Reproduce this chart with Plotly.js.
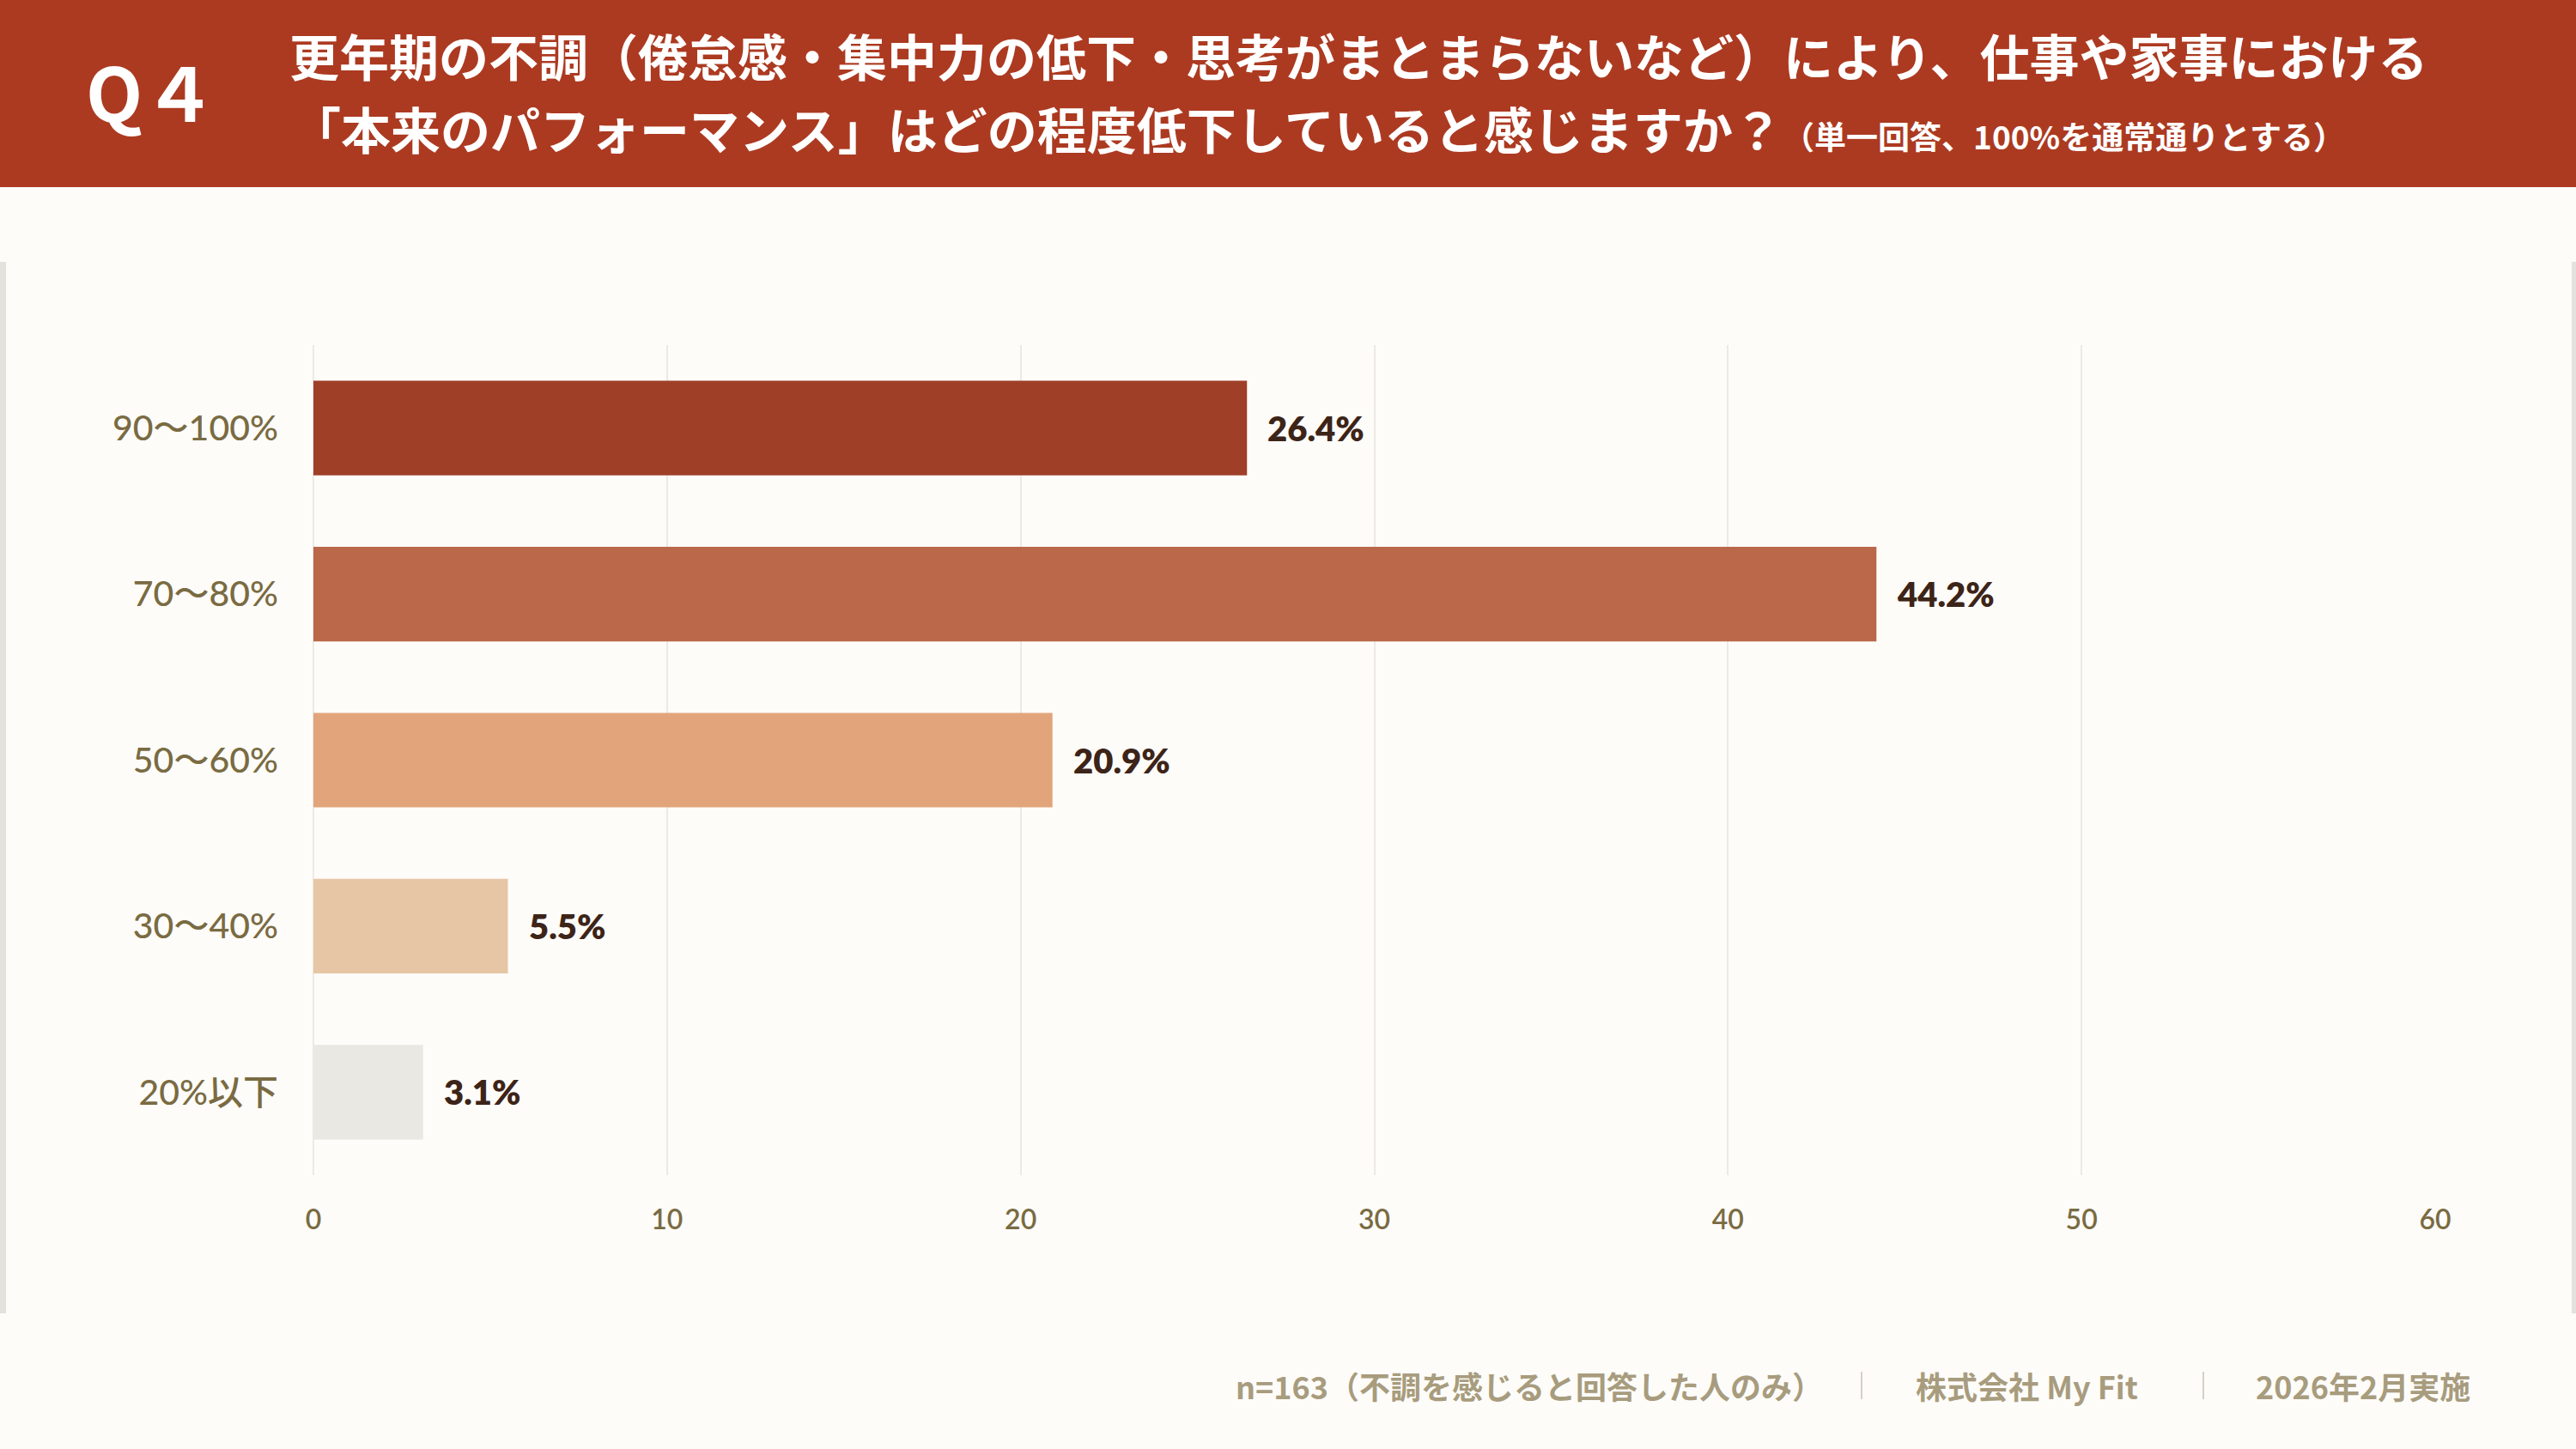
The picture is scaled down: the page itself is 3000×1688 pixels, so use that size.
<!DOCTYPE html>
<html>
<head>
<meta charset="utf-8">
<script src="https://cdn.plot.ly/plotly-3.0.1.min.js"></script>
<style>
  html, body { margin: 0; padding: 0; background: #FDFCF9; }
  #chart { width: 3000px; height: 1688px; }
</style>
</head>
<body>
<div id="chart"></div>
<script>
// ---- data ----
const categories = ["90〜100%", "70〜80%", "50〜60%", "30〜40%", "20%以下"];
const values = [26.4, 44.2, 20.9, 5.5, 3.1];
const valueLabels = ["26.4%", "44.2%", "20.9%", "5.5%", "3.1%"];
const xTicks = [0, 10, 20, 30, 40, 50, 60];
const qLabel = "Q４";
const titleLine1 = "更年期の不調（倦怠感・集中力の低下・思考がまとまらないなど）により、仕事や家事における";
const titleLine2 = "「本来のパフォーマンス」はどの程度低下していると感じますか？";
const titleNote = "（単一回答、100%を通常通りとする）";
const footerParts = ["n=163（不調を感じると回答した人のみ）", "株式会社 My Fit", "2026年2月実施"];

// ---- styles ----
const barColors = ["#A03F28", "#BA6849", "#E2A57B", "#E7C6A6", "#E9E8E3"];
const W = 3000, H = 1688;
const M = { l: 365, r: 164, t: 402, b: 319 };
const PW = W - M.l - M.r, PH = H - M.t - M.b;
const X = px => (px - M.l) / PW;
const Y = py => (H - M.b - py) / PH;

const jp = '"Noto Sans CJK JP", "Noto Sans", sans-serif';
const lat = 'Lato, "Noto Sans CJK JP", sans-serif';
const olive = "#7A6B42";

const trace = {
  type: "bar",
  orientation: "h",
  x: values,
  y: categories,
  marker: { color: barColors },
  hoverinfo: "skip"
};

const annotations = [];
values.forEach((v, i) => {
  annotations.push({
    x: v, y: categories[i], xref: "x", yref: "y",
    text: valueLabels[i], showarrow: false, xanchor: "left", yanchor: "middle",
    xshift: 22,
    font: { family: lat, size: 40, color: "#3D2418", weight: 800 }
  });
});
annotations.push({
  xref: "paper", yref: "paper", x: X(98), y: Y(104), xanchor: "left", yanchor: "middle",
  text: qLabel, showarrow: false,
  font: { family: jp, size: 86, color: "#FFFFFF", weight: 700 }
});
annotations.push({
  xref: "paper", yref: "paper", x: X(335), y: Y(64), xanchor: "left", yanchor: "middle",
  align: "left", text: titleLine1, showarrow: false,
  font: { family: jp, size: 58, color: "#FFFFFF", weight: 700 }
});
annotations.push({
  xref: "paper", yref: "paper", x: X(337), y: Y(149), xanchor: "left", yanchor: "middle",
  align: "left",
  text: titleLine2 + '<span style="font-size:37px">' + titleNote + '</span>',
  showarrow: false,
  font: { family: jp, size: 58, color: "#FFFFFF", weight: 700 }
});
const footX = [1437, 2229, 2625];
footerParts.forEach((t, i) => {
  annotations.push({
    xref: "paper", yref: "paper", x: X(footX[i]), y: Y(1614), xanchor: "left", yanchor: "middle",
    text: t, showarrow: false,
    font: { family: jp, size: 36, color: "#A89C7E", weight: 700 }
  });
});

const shapes = [
  { type: "rect", xref: "paper", yref: "paper", x0: X(0), x1: X(3000), y0: Y(0), y1: Y(218),
    fillcolor: "#AC3A21", line: { width: 0 }, layer: "below" },
  { type: "rect", xref: "paper", yref: "paper", x0: X(0), x1: X(7), y0: Y(305), y1: Y(1530),
    fillcolor: "#E3E2DD", line: { width: 0 }, layer: "below" },
  { type: "rect", xref: "paper", yref: "paper", x0: X(2995), x1: X(3000), y0: Y(305), y1: Y(1530),
    fillcolor: "#E3E2DD", line: { width: 0 }, layer: "below" },
  { type: "line", xref: "paper", yref: "paper", x0: X(2168), x1: X(2168), y0: Y(1598), y1: Y(1630),
    line: { color: "#D6D1C6", width: 2 } },
  { type: "line", xref: "paper", yref: "paper", x0: X(2566), x1: X(2566), y0: Y(1598), y1: Y(1630),
    line: { color: "#D6D1C6", width: 2 } }
];

const layout = {
  width: W, height: H,
  margin: M,
  paper_bgcolor: "#FDFCF9",
  plot_bgcolor: "rgba(0,0,0,0)",
  showlegend: false,
  bargap: 0.43,
  xaxis: {
    range: [0, 60], tickvals: xTicks, ticktext: xTicks.map(String),
    showgrid: true, gridcolor: "#ECEAE4", gridwidth: 2,
    zeroline: true, zerolinecolor: "#ECEAE4", zerolinewidth: 2,
    showline: false, ticks: "",
    tickfont: { family: lat, size: 32, color: olive, weight: 600 },
    ticklabelstandoff: 30, fixedrange: true
  },
  yaxis: {
    type: "category", categoryorder: "array", categoryarray: categories,
    autorange: "reversed",
    showgrid: false, zeroline: false, showline: false, ticks: "",
    tickfont: { family: lat, size: 41, color: olive, weight: 500 },
    ticklabelstandoff: 40, fixedrange: true
  },
  annotations: annotations,
  shapes: shapes
};

Plotly.newPlot("chart", [trace], layout, { staticPlot: true, displayModeBar: false });
</script>
</body>
</html>
